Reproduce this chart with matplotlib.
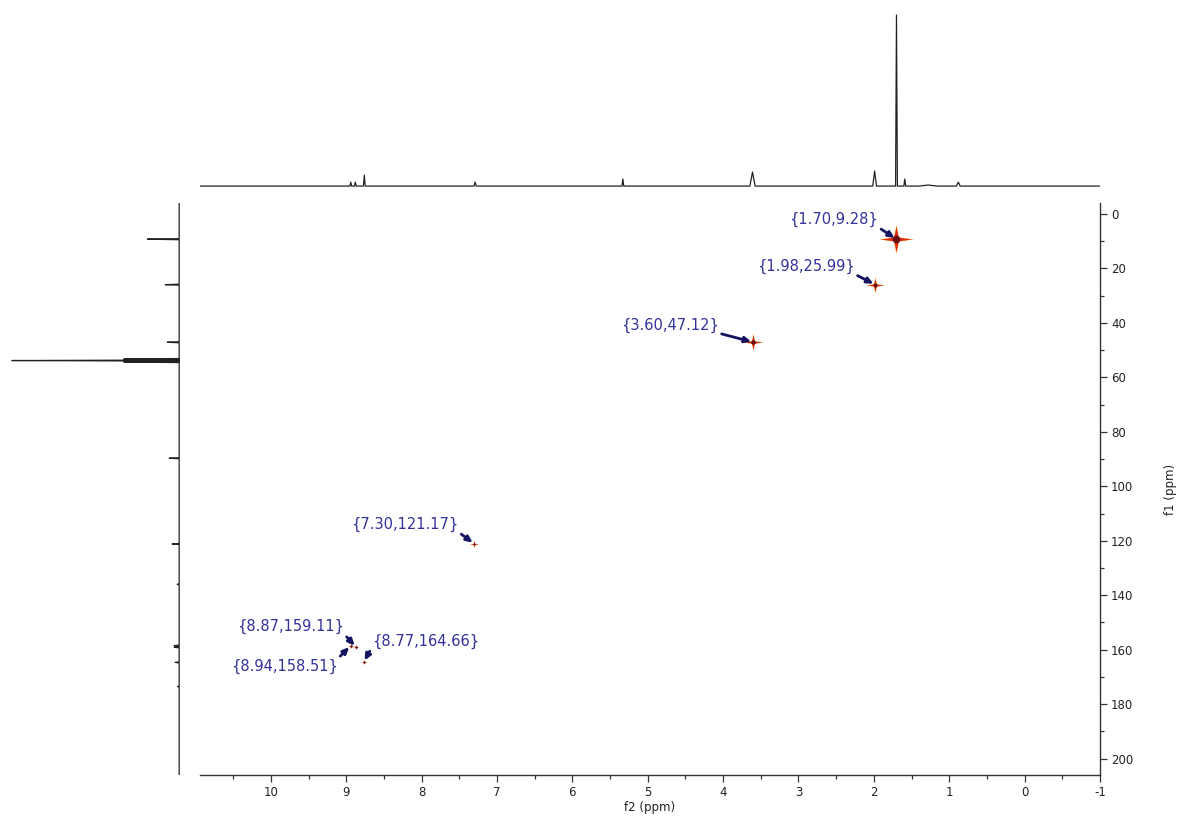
import numpy as np
import matplotlib.pyplot as plt
from matplotlib.path import Path

plt.rcParams["axes.unicode_minus"] = False

# 1H projection along f2 (relative intensity)
h1_shift = [8.94, 8.88, 8.76, 7.29, 5.33, 3.61, 1.99, 1.70, 1.59, 1.28, 0.88]
h1_height = [0.023, 0.023, 0.064, 0.023, 0.041, 0.082, 0.088, 1.0, 0.041, 0.006, 0.023]
h1_width = [0.012, 0.012, 0.012, 0.015, 0.012, 0.035, 0.025, 0.012, 0.012, 0.12, 0.025]

# 13C projection along f1 (relative intensity)
c13_shift = [9.28, 25.99, 47.12, 53.30, 53.57, 53.84, 54.11, 54.38,
             89.7, 121.17, 136.0, 158.51, 159.11, 164.66, 173.5]
c13_height = [0.19, 0.083, 0.071, 0.33, 0.33, 1.0, 0.33, 0.33,
              0.06, 0.042, 0.012, 0.03, 0.03, 0.024, 0.01]
c13_width = [0.2] * len(c13_shift)

# HSQC cross peaks
cross_f2 = [1.70, 1.98, 3.60, 7.30, 8.87, 8.94, 8.77]
cross_f1 = [9.28, 25.99, 47.12, 121.17, 159.11, 158.51, 164.66]

# marker size per peak and label offsets (points)
cross_size = [22, 12, 13, 6, 4, 4, 4]
label_offset = [(-45, 14), (-50, 13), (-60, 12), (-50, 14), (-47, 15), (-48, -15), (45, 15)]
label_relpos = [(1, 0), (1, 0), (1, 0), (1, 0), (1, 0), (1, 1), (0, 0.2)]

XLIM = (10.94, -1.0)
YLIM = (206, -4)


def trace(shift, height, width, lo, hi):
    order = np.argsort(shift)
    xs, ys = [lo], [0.0]
    for i in order:
        s, h, w = shift[i], height[i], width[i]
        xs += [s - w, s, s + w]
        ys += [0.0, h, 0.0]
    xs.append(hi)
    ys.append(0.0)
    return np.array(xs), np.array(ys)


fig = plt.figure(figsize=(11.82, 8.21), dpi=100)
W, H = 1182, 821


def px_axes(x0, y0, x1, y1):
    return fig.add_axes([x0 / W, 1 - y1 / H, (x1 - x0) / W, (y1 - y0) / H])


ax = px_axes(200, 203, 1100, 775)
ax_top = px_axes(200, 10, 1100, 190)
ax_left = px_axes(0, 203, 180, 775)

# top 1H trace
hx, hy = trace(h1_shift, h1_height, h1_width, XLIM[1], XLIM[0])
ax_top.plot(hx, hy, color="#222222", lw=0.9)
ax_top.set_xlim(*XLIM)
ax_top.set_ylim(-0.023, 1.03)
ax_top.axis("off")

# left 13C trace
cx, cy = trace(c13_shift, c13_height, c13_width, YLIM[1], YLIM[0])
ax_left.plot(cy, cx, color="#222222", lw=0.9)
ax_left.set_ylim(*YLIM)
ax_left.set_xlim(1.071, -0.005)
ax_left.axis("off")

# 2D cross peaks as four-pointed stars, a little wider along f2
base = Path.unit_regular_star(4, 0.2)
star4 = Path(base.vertices * [1.15, 0.95], base.codes)
for f2, f1, s in zip(cross_f2, cross_f1, cross_size):
    ax.plot(f2, f1, marker=star4, ms=s * 1.15, color="#f7a21b", mew=0, zorder=3)
    ax.plot(f2, f1, marker=star4, ms=s, color="#e3260f", mew=0, zorder=4)
    ax.plot(f2, f1, marker="o", ms=max(s * 0.25, 1.8), color="#6a0c14", mew=0, zorder=5)

for f2, f1, off, rp in zip(cross_f2, cross_f1, label_offset, label_relpos):
    ax.annotate("{%.2f,%.2f}" % (f2, f1), xy=(f2, f1), xytext=off,
                textcoords="offset points", ha="center", va="center",
                fontsize=10.5, color="#32329a", zorder=6,
                arrowprops=dict(arrowstyle="-|>,head_length=0.35,head_width=0.16",
                                color="#141460", lw=2.0, shrinkA=0, shrinkB=1.5,
                                relpos=rp))

ax.set_xlim(*XLIM)
ax.set_ylim(*YLIM)
for side in ("top", "left"):
    ax.spines[side].set_visible(False)
for side in ("bottom", "right"):
    ax.spines[side].set_color("#333333")
    ax.spines[side].set_linewidth(1.0)

ax.yaxis.tick_right()
ax.yaxis.set_label_position("right")
ax.set_xticks(np.arange(10, -2, -1))
ax.set_xticks(np.arange(10.5, -1, -1), minor=True)
ax.set_yticks(np.arange(0, 201, 20))
ax.set_yticks(np.arange(10, 201, 20), minor=True)
ax.tick_params(which="major", length=5, width=0.9, color="#333333",
               labelsize=8.5, labelcolor="#222222", pad=3)
ax.tick_params(which="minor", length=3, width=0.9, color="#333333")
ax.set_xlabel("f2 (ppm)", fontsize=8.5, color="#222222", labelpad=1)
ax.set_ylabel("f1 (ppm)", fontsize=8.5, color="#222222", labelpad=22)

fig.savefig("out.png", dpi=100, facecolor="white")
